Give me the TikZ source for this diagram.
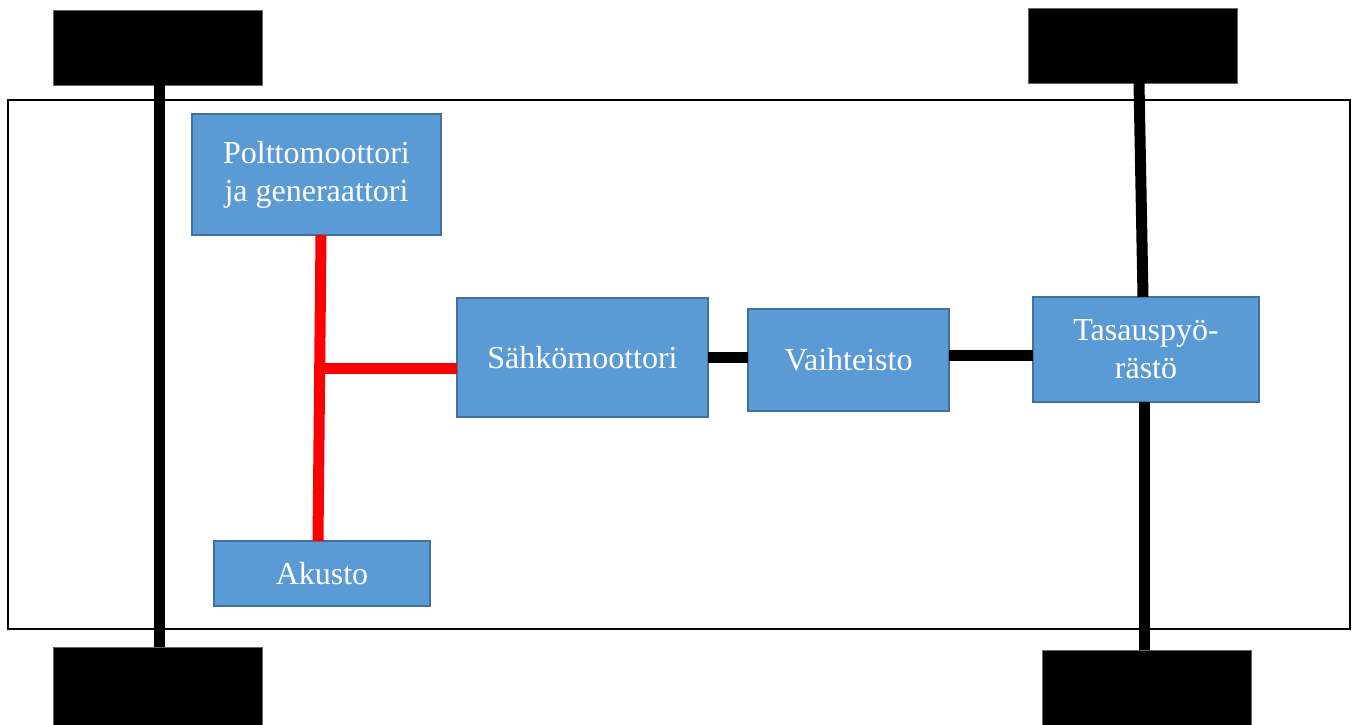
\documentclass[tikz,border=0pt]{standalone}
\usepackage{fontspec}
\setmainfont{Liberation Serif}
\definecolor{boxfill}{HTML}{5B9BD5}
\definecolor{boxline}{HTML}{41719C}
\begin{document}
\begin{tikzpicture}[x=0.5pt,y=-0.5pt,
  box/.style={draw=boxline,line width=1pt,fill=boxfill,text=white,align=center,
    inner sep=0pt,outer sep=0pt,font=\fontsize{16}{19}\selectfont},
  wheel/.style={fill=black,draw=black!60,line width=0.3pt,inner sep=0pt,outer sep=0pt,
    minimum width=104.5pt,minimum height=37.5pt},
  axle/.style={line width=5.5pt,black},
  elec/.style={line width=5.5pt,red},
  shaft/.style={line width=5.5pt,black}]
\useasboundingbox (0,0) rectangle (1353,724);
\fill[white] (0,0) rectangle (1353,724);
% frame
\draw[line width=1.1pt] (8,100) rectangle (1350,629);
% wheels
\node[wheel] (wtl) at (157.5,47.5) {};
\node[wheel] (wtr) at (1133,45.5) {};
\node[wheel,minimum height=40pt] (wbl) at (157.5,687) {};
\node[wheel,minimum height=40pt] (wbr) at (1146.5,690) {};
% boxes
\node[box,minimum width=124.5pt,minimum height=60.5pt] (p) at (316.5,174.5) {Polttomoottori\\ja generaattori};
\node[box,minimum width=108pt,minimum height=32.5pt] (a) at (322,573.5) {Akusto};
\node[box,minimum width=125.5pt,minimum height=59.5pt] (s) at (582.5,357.5) {Sähkömoottori};
\node[box,minimum width=100.5pt,minimum height=51pt] (v) at (848.5,360) {Vaihteisto};
\node[box,minimum width=113pt,minimum height=52.5pt] (t) at (1146,349.5) {Tasauspyö-\\rästö};
% axles
\draw[axle] ([xshift=0.75pt]wtl.south) -- ([xshift=0.75pt]wbl.north);
\draw[axle] ([xshift=3pt]wtr.south) -- ([xshift=-1.5pt]t.north);
\draw[axle] ([xshift=-1pt]t.south) -- ([xshift=-1.25pt]wbr.north);
% electric connections
\coordinate (ptop) at ([xshift=2.25pt]p.south);
\coordinate (abot) at ([xshift=-2pt]a.north);
\draw[elec] (ptop) -- (abot);
\coordinate (j) at (319.5,368);
\draw[elec] ([xshift=-2.75pt]j) -- (j -| s.west);
% shafts
\draw[shaft] (s.east) -- (s.east -| v.west);
\draw[shaft] ([yshift=2.5pt]v.east) -- ([yshift=2.5pt]v.east -| t.west);
\end{tikzpicture}
\end{document}
